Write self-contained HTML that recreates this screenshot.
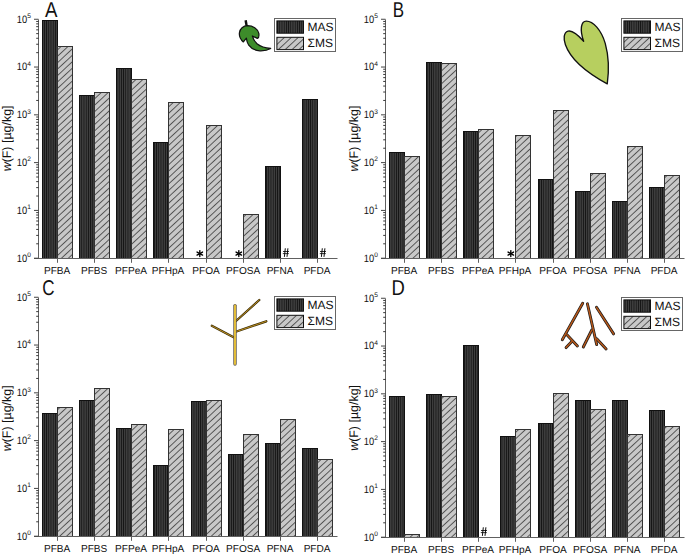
<!DOCTYPE html>
<html><head><meta charset="utf-8"><style>
html,body{margin:0;padding:0;background:#fff;}
body{width:685px;height:556px;overflow:hidden;}
svg{display:block;}
text{font-family:"Liberation Sans",sans-serif;fill:#111;text-rendering:geometricPrecision;}
.sr{font-family:"Liberation Serif",serif;}
</style></head><body>
<svg width="685" height="556" viewBox="0 0 685 556">

<defs>
<pattern id="pm" patternUnits="userSpaceOnUse" width="2.2" height="10">
<rect width="2.2" height="10" fill="#3e3e3e"/>
<rect x="0" width="0.75" height="10" fill="#121212"/>
</pattern>
<pattern id="ph" patternUnits="userSpaceOnUse" width="10" height="4.7" patternTransform="rotate(-43)">
<rect width="10" height="4.7" fill="#c8c8c8"/>
<rect x="0" y="0" width="10" height="0.75" fill="#333"/>
</pattern>
<g id="hash" stroke="#000" fill="none">
<line x1="-0.6" y1="-10.2" x2="-1.5" y2="-1.6" stroke-width="0.95"/>
<line x1="2.0" y1="-10.2" x2="1.1" y2="-1.6" stroke-width="0.95"/>
<line x1="-2.9" y1="-7" x2="3.1" y2="-7" stroke-width="0.8"/>
<line x1="-3.1" y1="-4.9" x2="2.9" y2="-4.9" stroke-width="0.8"/>
</g>
<g id="ast" stroke="#000" stroke-width="1.35" stroke-linecap="round">
<line x1="0" y1="-3.0" x2="0" y2="3.0"/>
<line x1="-2.75" y1="-1.55" x2="2.75" y2="1.55"/>
<line x1="-2.75" y1="1.55" x2="2.75" y2="-1.55"/>
</g>
</defs>
<g><rect x="42.5" y="20.5" width="15" height="238" fill="url(#pm)" stroke="#111" stroke-width="1"/>
<rect x="57.5" y="46.5" width="15" height="212" fill="url(#ph)" stroke="#333" stroke-width="1"/>
<rect x="79.5" y="95.5" width="15" height="163" fill="url(#pm)" stroke="#111" stroke-width="1"/>
<rect x="94.5" y="92.5" width="15" height="166" fill="url(#ph)" stroke="#333" stroke-width="1"/>
<rect x="116.5" y="68.5" width="15" height="190" fill="url(#pm)" stroke="#111" stroke-width="1"/>
<rect x="131.5" y="79.5" width="15" height="179" fill="url(#ph)" stroke="#333" stroke-width="1"/>
<rect x="153.5" y="142.5" width="15" height="116" fill="url(#pm)" stroke="#111" stroke-width="1"/>
<rect x="168.5" y="102.5" width="15" height="156" fill="url(#ph)" stroke="#333" stroke-width="1"/>
<rect x="206.5" y="125.5" width="15" height="133" fill="url(#ph)" stroke="#333" stroke-width="1"/>
<rect x="243.5" y="214.5" width="15" height="44" fill="url(#ph)" stroke="#333" stroke-width="1"/>
<rect x="265.5" y="166.5" width="15" height="92" fill="url(#pm)" stroke="#111" stroke-width="1"/>
<rect x="302.5" y="99.5" width="15" height="159" fill="url(#pm)" stroke="#111" stroke-width="1"/>
<line x1="38.5" y1="19.5" x2="38.5" y2="258.5" stroke="#606060" stroke-width="1"/>
<line x1="34" y1="258.5" x2="337.5" y2="258.5" stroke="#606060" stroke-width="1"/>
<line x1="34" y1="258.2" x2="38.5" y2="258.2" stroke="#444" stroke-width="1"/>
<text transform="translate(27.1,261.6) scale(0.88,1)" text-anchor="end" font-size="10.6">10</text>
<text x="27.3" y="257" font-size="6.6">0</text>
<line x1="36.2" y1="243.81" x2="38.5" y2="243.81" stroke="#222" stroke-width="0.9"/>
<line x1="36.2" y1="235.4" x2="38.5" y2="235.4" stroke="#222" stroke-width="0.9"/>
<line x1="36.2" y1="229.43" x2="38.5" y2="229.43" stroke="#222" stroke-width="0.9"/>
<line x1="36.2" y1="224.8" x2="38.5" y2="224.8" stroke="#222" stroke-width="0.9"/>
<line x1="36.2" y1="221.01" x2="38.5" y2="221.01" stroke="#222" stroke-width="0.9"/>
<line x1="36.2" y1="217.81" x2="38.5" y2="217.81" stroke="#222" stroke-width="0.9"/>
<line x1="36.2" y1="215.04" x2="38.5" y2="215.04" stroke="#222" stroke-width="0.9"/>
<line x1="36.2" y1="212.6" x2="38.5" y2="212.6" stroke="#222" stroke-width="0.9"/>
<line x1="34" y1="210.41" x2="38.5" y2="210.41" stroke="#444" stroke-width="1"/>
<text transform="translate(27.1,213.81) scale(0.88,1)" text-anchor="end" font-size="10.6">10</text>
<text x="27.3" y="209.21" font-size="6.6">1</text>
<line x1="36.2" y1="196.02" x2="38.5" y2="196.02" stroke="#222" stroke-width="0.9"/>
<line x1="36.2" y1="187.61" x2="38.5" y2="187.61" stroke="#222" stroke-width="0.9"/>
<line x1="36.2" y1="181.64" x2="38.5" y2="181.64" stroke="#222" stroke-width="0.9"/>
<line x1="36.2" y1="177.01" x2="38.5" y2="177.01" stroke="#222" stroke-width="0.9"/>
<line x1="36.2" y1="173.22" x2="38.5" y2="173.22" stroke="#222" stroke-width="0.9"/>
<line x1="36.2" y1="170.02" x2="38.5" y2="170.02" stroke="#222" stroke-width="0.9"/>
<line x1="36.2" y1="167.25" x2="38.5" y2="167.25" stroke="#222" stroke-width="0.9"/>
<line x1="36.2" y1="164.81" x2="38.5" y2="164.81" stroke="#222" stroke-width="0.9"/>
<line x1="34" y1="162.62" x2="38.5" y2="162.62" stroke="#444" stroke-width="1"/>
<text transform="translate(27.1,166.02) scale(0.88,1)" text-anchor="end" font-size="10.6">10</text>
<text x="27.3" y="161.42" font-size="6.6">2</text>
<line x1="36.2" y1="148.23" x2="38.5" y2="148.23" stroke="#222" stroke-width="0.9"/>
<line x1="36.2" y1="139.82" x2="38.5" y2="139.82" stroke="#222" stroke-width="0.9"/>
<line x1="36.2" y1="133.85" x2="38.5" y2="133.85" stroke="#222" stroke-width="0.9"/>
<line x1="36.2" y1="129.22" x2="38.5" y2="129.22" stroke="#222" stroke-width="0.9"/>
<line x1="36.2" y1="125.43" x2="38.5" y2="125.43" stroke="#222" stroke-width="0.9"/>
<line x1="36.2" y1="122.23" x2="38.5" y2="122.23" stroke="#222" stroke-width="0.9"/>
<line x1="36.2" y1="119.46" x2="38.5" y2="119.46" stroke="#222" stroke-width="0.9"/>
<line x1="36.2" y1="117.02" x2="38.5" y2="117.02" stroke="#222" stroke-width="0.9"/>
<line x1="34" y1="114.83" x2="38.5" y2="114.83" stroke="#444" stroke-width="1"/>
<text transform="translate(27.1,118.23) scale(0.88,1)" text-anchor="end" font-size="10.6">10</text>
<text x="27.3" y="113.63" font-size="6.6">3</text>
<line x1="36.2" y1="100.44" x2="38.5" y2="100.44" stroke="#222" stroke-width="0.9"/>
<line x1="36.2" y1="92.03" x2="38.5" y2="92.03" stroke="#222" stroke-width="0.9"/>
<line x1="36.2" y1="86.06" x2="38.5" y2="86.06" stroke="#222" stroke-width="0.9"/>
<line x1="36.2" y1="81.43" x2="38.5" y2="81.43" stroke="#222" stroke-width="0.9"/>
<line x1="36.2" y1="77.64" x2="38.5" y2="77.64" stroke="#222" stroke-width="0.9"/>
<line x1="36.2" y1="74.44" x2="38.5" y2="74.44" stroke="#222" stroke-width="0.9"/>
<line x1="36.2" y1="71.67" x2="38.5" y2="71.67" stroke="#222" stroke-width="0.9"/>
<line x1="36.2" y1="69.23" x2="38.5" y2="69.23" stroke="#222" stroke-width="0.9"/>
<line x1="34" y1="67.04" x2="38.5" y2="67.04" stroke="#444" stroke-width="1"/>
<text transform="translate(27.1,70.44) scale(0.88,1)" text-anchor="end" font-size="10.6">10</text>
<text x="27.3" y="65.84" font-size="6.6">4</text>
<line x1="36.2" y1="52.65" x2="38.5" y2="52.65" stroke="#222" stroke-width="0.9"/>
<line x1="36.2" y1="44.24" x2="38.5" y2="44.24" stroke="#222" stroke-width="0.9"/>
<line x1="36.2" y1="38.27" x2="38.5" y2="38.27" stroke="#222" stroke-width="0.9"/>
<line x1="36.2" y1="33.64" x2="38.5" y2="33.64" stroke="#222" stroke-width="0.9"/>
<line x1="36.2" y1="29.85" x2="38.5" y2="29.85" stroke="#222" stroke-width="0.9"/>
<line x1="36.2" y1="26.65" x2="38.5" y2="26.65" stroke="#222" stroke-width="0.9"/>
<line x1="36.2" y1="23.88" x2="38.5" y2="23.88" stroke="#222" stroke-width="0.9"/>
<line x1="36.2" y1="21.44" x2="38.5" y2="21.44" stroke="#222" stroke-width="0.9"/>
<line x1="34" y1="19.25" x2="38.5" y2="19.25" stroke="#444" stroke-width="1"/>
<text transform="translate(27.1,22.65) scale(0.88,1)" text-anchor="end" font-size="10.6">10</text>
<text x="27.3" y="18.05" font-size="6.6">5</text>
<line x1="57.5" y1="258.5" x2="57.5" y2="262.8" stroke="#606060" stroke-width="1"/>
<text x="57.1" y="273.5" text-anchor="middle" font-size="10.1">PFBA</text>
<line x1="94.5" y1="258.5" x2="94.5" y2="262.8" stroke="#606060" stroke-width="1"/>
<text x="94.1" y="273.5" text-anchor="middle" font-size="10.1">PFBS</text>
<line x1="131.5" y1="258.5" x2="131.5" y2="262.8" stroke="#606060" stroke-width="1"/>
<text x="131.1" y="273.5" text-anchor="middle" font-size="10.1">PFPeA</text>
<line x1="168.5" y1="258.5" x2="168.5" y2="262.8" stroke="#606060" stroke-width="1"/>
<text x="168.1" y="273.5" text-anchor="middle" font-size="10.1">PFHpA</text>
<line x1="206.5" y1="258.5" x2="206.5" y2="262.8" stroke="#606060" stroke-width="1"/>
<text x="206.1" y="273.5" text-anchor="middle" font-size="10.1">PFOA</text>
<line x1="243.5" y1="258.5" x2="243.5" y2="262.8" stroke="#606060" stroke-width="1"/>
<text x="243.1" y="273.5" text-anchor="middle" font-size="10.1">PFOSA</text>
<line x1="280.5" y1="258.5" x2="280.5" y2="262.8" stroke="#606060" stroke-width="1"/>
<text x="280.1" y="273.5" text-anchor="middle" font-size="10.1">PFNA</text>
<line x1="317.5" y1="258.5" x2="317.5" y2="262.8" stroke="#606060" stroke-width="1"/>
<text x="317.1" y="273.5" text-anchor="middle" font-size="10.1">PFDA</text>
<use href="#ast" x="199.8" y="253.6"/>
<use href="#ast" x="238.8" y="253.6"/>
<use href="#hash" x="285.9" y="258.5"/>
<use href="#hash" x="322.9" y="258.5"/>
<text transform="translate(10.9,138.4) rotate(-90)" text-anchor="middle" font-size="12.45"><tspan font-style="italic">w</tspan>(F) [µg/kg]</text>
<text transform="translate(44.9,17.2) scale(0.867,1)" font-size="21.5">A</text>
<rect x="274.5" y="18.5" width="61" height="33" fill="#fff" stroke="#666" stroke-width="1"/>
<rect x="276.9" y="20.9" width="26.6" height="12.3" fill="url(#pm)" stroke="#111" stroke-width="1"/>
<rect x="276.9" y="37.3" width="26.6" height="12.3" fill="url(#ph)" stroke="#111" stroke-width="1"/>
<text x="307.5" y="30.5" font-size="12">MAS</text>
<text x="307.5" y="47.2" font-size="12">ΣMS</text></g>
<g><rect x="389.5" y="152.5" width="15" height="106" fill="url(#pm)" stroke="#111" stroke-width="1"/>
<rect x="404.5" y="156.5" width="15" height="102" fill="url(#ph)" stroke="#333" stroke-width="1"/>
<rect x="426.5" y="62.5" width="15" height="196" fill="url(#pm)" stroke="#111" stroke-width="1"/>
<rect x="441.5" y="63.5" width="15" height="195" fill="url(#ph)" stroke="#333" stroke-width="1"/>
<rect x="463.5" y="131.5" width="15" height="127" fill="url(#pm)" stroke="#111" stroke-width="1"/>
<rect x="478.5" y="129.5" width="15" height="129" fill="url(#ph)" stroke="#333" stroke-width="1"/>
<rect x="515.5" y="135.5" width="15" height="123" fill="url(#ph)" stroke="#333" stroke-width="1"/>
<rect x="538.5" y="179.5" width="15" height="79" fill="url(#pm)" stroke="#111" stroke-width="1"/>
<rect x="553.5" y="110.5" width="15" height="148" fill="url(#ph)" stroke="#333" stroke-width="1"/>
<rect x="575.5" y="191.5" width="15" height="67" fill="url(#pm)" stroke="#111" stroke-width="1"/>
<rect x="590.5" y="173.5" width="15" height="85" fill="url(#ph)" stroke="#333" stroke-width="1"/>
<rect x="612.5" y="201.5" width="15" height="57" fill="url(#pm)" stroke="#111" stroke-width="1"/>
<rect x="627.5" y="146.5" width="15" height="112" fill="url(#ph)" stroke="#333" stroke-width="1"/>
<rect x="649.5" y="187.5" width="15" height="71" fill="url(#pm)" stroke="#111" stroke-width="1"/>
<rect x="664.5" y="175.5" width="15" height="83" fill="url(#ph)" stroke="#333" stroke-width="1"/>
<line x1="385.5" y1="19.5" x2="385.5" y2="258.5" stroke="#606060" stroke-width="1"/>
<line x1="381" y1="258.5" x2="684.5" y2="258.5" stroke="#606060" stroke-width="1"/>
<line x1="381" y1="258.2" x2="385.5" y2="258.2" stroke="#444" stroke-width="1"/>
<text transform="translate(374.1,261.6) scale(0.88,1)" text-anchor="end" font-size="10.6">10</text>
<text x="374.3" y="257" font-size="6.6">0</text>
<line x1="383.2" y1="243.81" x2="385.5" y2="243.81" stroke="#222" stroke-width="0.9"/>
<line x1="383.2" y1="235.4" x2="385.5" y2="235.4" stroke="#222" stroke-width="0.9"/>
<line x1="383.2" y1="229.43" x2="385.5" y2="229.43" stroke="#222" stroke-width="0.9"/>
<line x1="383.2" y1="224.8" x2="385.5" y2="224.8" stroke="#222" stroke-width="0.9"/>
<line x1="383.2" y1="221.01" x2="385.5" y2="221.01" stroke="#222" stroke-width="0.9"/>
<line x1="383.2" y1="217.81" x2="385.5" y2="217.81" stroke="#222" stroke-width="0.9"/>
<line x1="383.2" y1="215.04" x2="385.5" y2="215.04" stroke="#222" stroke-width="0.9"/>
<line x1="383.2" y1="212.6" x2="385.5" y2="212.6" stroke="#222" stroke-width="0.9"/>
<line x1="381" y1="210.41" x2="385.5" y2="210.41" stroke="#444" stroke-width="1"/>
<text transform="translate(374.1,213.81) scale(0.88,1)" text-anchor="end" font-size="10.6">10</text>
<text x="374.3" y="209.21" font-size="6.6">1</text>
<line x1="383.2" y1="196.02" x2="385.5" y2="196.02" stroke="#222" stroke-width="0.9"/>
<line x1="383.2" y1="187.61" x2="385.5" y2="187.61" stroke="#222" stroke-width="0.9"/>
<line x1="383.2" y1="181.64" x2="385.5" y2="181.64" stroke="#222" stroke-width="0.9"/>
<line x1="383.2" y1="177.01" x2="385.5" y2="177.01" stroke="#222" stroke-width="0.9"/>
<line x1="383.2" y1="173.22" x2="385.5" y2="173.22" stroke="#222" stroke-width="0.9"/>
<line x1="383.2" y1="170.02" x2="385.5" y2="170.02" stroke="#222" stroke-width="0.9"/>
<line x1="383.2" y1="167.25" x2="385.5" y2="167.25" stroke="#222" stroke-width="0.9"/>
<line x1="383.2" y1="164.81" x2="385.5" y2="164.81" stroke="#222" stroke-width="0.9"/>
<line x1="381" y1="162.62" x2="385.5" y2="162.62" stroke="#444" stroke-width="1"/>
<text transform="translate(374.1,166.02) scale(0.88,1)" text-anchor="end" font-size="10.6">10</text>
<text x="374.3" y="161.42" font-size="6.6">2</text>
<line x1="383.2" y1="148.23" x2="385.5" y2="148.23" stroke="#222" stroke-width="0.9"/>
<line x1="383.2" y1="139.82" x2="385.5" y2="139.82" stroke="#222" stroke-width="0.9"/>
<line x1="383.2" y1="133.85" x2="385.5" y2="133.85" stroke="#222" stroke-width="0.9"/>
<line x1="383.2" y1="129.22" x2="385.5" y2="129.22" stroke="#222" stroke-width="0.9"/>
<line x1="383.2" y1="125.43" x2="385.5" y2="125.43" stroke="#222" stroke-width="0.9"/>
<line x1="383.2" y1="122.23" x2="385.5" y2="122.23" stroke="#222" stroke-width="0.9"/>
<line x1="383.2" y1="119.46" x2="385.5" y2="119.46" stroke="#222" stroke-width="0.9"/>
<line x1="383.2" y1="117.02" x2="385.5" y2="117.02" stroke="#222" stroke-width="0.9"/>
<line x1="381" y1="114.83" x2="385.5" y2="114.83" stroke="#444" stroke-width="1"/>
<text transform="translate(374.1,118.23) scale(0.88,1)" text-anchor="end" font-size="10.6">10</text>
<text x="374.3" y="113.63" font-size="6.6">3</text>
<line x1="383.2" y1="100.44" x2="385.5" y2="100.44" stroke="#222" stroke-width="0.9"/>
<line x1="383.2" y1="92.03" x2="385.5" y2="92.03" stroke="#222" stroke-width="0.9"/>
<line x1="383.2" y1="86.06" x2="385.5" y2="86.06" stroke="#222" stroke-width="0.9"/>
<line x1="383.2" y1="81.43" x2="385.5" y2="81.43" stroke="#222" stroke-width="0.9"/>
<line x1="383.2" y1="77.64" x2="385.5" y2="77.64" stroke="#222" stroke-width="0.9"/>
<line x1="383.2" y1="74.44" x2="385.5" y2="74.44" stroke="#222" stroke-width="0.9"/>
<line x1="383.2" y1="71.67" x2="385.5" y2="71.67" stroke="#222" stroke-width="0.9"/>
<line x1="383.2" y1="69.23" x2="385.5" y2="69.23" stroke="#222" stroke-width="0.9"/>
<line x1="381" y1="67.04" x2="385.5" y2="67.04" stroke="#444" stroke-width="1"/>
<text transform="translate(374.1,70.44) scale(0.88,1)" text-anchor="end" font-size="10.6">10</text>
<text x="374.3" y="65.84" font-size="6.6">4</text>
<line x1="383.2" y1="52.65" x2="385.5" y2="52.65" stroke="#222" stroke-width="0.9"/>
<line x1="383.2" y1="44.24" x2="385.5" y2="44.24" stroke="#222" stroke-width="0.9"/>
<line x1="383.2" y1="38.27" x2="385.5" y2="38.27" stroke="#222" stroke-width="0.9"/>
<line x1="383.2" y1="33.64" x2="385.5" y2="33.64" stroke="#222" stroke-width="0.9"/>
<line x1="383.2" y1="29.85" x2="385.5" y2="29.85" stroke="#222" stroke-width="0.9"/>
<line x1="383.2" y1="26.65" x2="385.5" y2="26.65" stroke="#222" stroke-width="0.9"/>
<line x1="383.2" y1="23.88" x2="385.5" y2="23.88" stroke="#222" stroke-width="0.9"/>
<line x1="383.2" y1="21.44" x2="385.5" y2="21.44" stroke="#222" stroke-width="0.9"/>
<line x1="381" y1="19.25" x2="385.5" y2="19.25" stroke="#444" stroke-width="1"/>
<text transform="translate(374.1,22.65) scale(0.88,1)" text-anchor="end" font-size="10.6">10</text>
<text x="374.3" y="18.05" font-size="6.6">5</text>
<line x1="404.5" y1="258.5" x2="404.5" y2="262.8" stroke="#606060" stroke-width="1"/>
<text x="404.1" y="273.5" text-anchor="middle" font-size="10.1">PFBA</text>
<line x1="441.5" y1="258.5" x2="441.5" y2="262.8" stroke="#606060" stroke-width="1"/>
<text x="441.1" y="273.5" text-anchor="middle" font-size="10.1">PFBS</text>
<line x1="478.5" y1="258.5" x2="478.5" y2="262.8" stroke="#606060" stroke-width="1"/>
<text x="478.1" y="273.5" text-anchor="middle" font-size="10.1">PFPeA</text>
<line x1="515.5" y1="258.5" x2="515.5" y2="262.8" stroke="#606060" stroke-width="1"/>
<text x="515.1" y="273.5" text-anchor="middle" font-size="10.1">PFHpA</text>
<line x1="553.5" y1="258.5" x2="553.5" y2="262.8" stroke="#606060" stroke-width="1"/>
<text x="553.1" y="273.5" text-anchor="middle" font-size="10.1">PFOA</text>
<line x1="590.5" y1="258.5" x2="590.5" y2="262.8" stroke="#606060" stroke-width="1"/>
<text x="590.1" y="273.5" text-anchor="middle" font-size="10.1">PFOSA</text>
<line x1="627.5" y1="258.5" x2="627.5" y2="262.8" stroke="#606060" stroke-width="1"/>
<text x="627.1" y="273.5" text-anchor="middle" font-size="10.1">PFNA</text>
<line x1="664.5" y1="258.5" x2="664.5" y2="262.8" stroke="#606060" stroke-width="1"/>
<text x="664.1" y="273.5" text-anchor="middle" font-size="10.1">PFDA</text>
<use href="#ast" x="510.8" y="253.6"/>
<text transform="translate(357.9,138.6) rotate(-90)" text-anchor="middle" font-size="12.45"><tspan font-style="italic">w</tspan>(F) [µg/kg]</text>
<text transform="translate(392.74,17.2) scale(0.79,1)" font-size="21.5">B</text>
<rect x="621.5" y="18.5" width="61" height="33" fill="#fff" stroke="#666" stroke-width="1"/>
<rect x="623.9" y="20.9" width="26.6" height="12.3" fill="url(#pm)" stroke="#111" stroke-width="1"/>
<rect x="623.9" y="37.3" width="26.6" height="12.3" fill="url(#ph)" stroke="#111" stroke-width="1"/>
<text x="654.5" y="30.5" font-size="12">MAS</text>
<text x="654.5" y="47.2" font-size="12">ΣMS</text></g>
<g><rect x="42.5" y="413.5" width="15" height="123" fill="url(#pm)" stroke="#111" stroke-width="1"/>
<rect x="57.5" y="407.5" width="15" height="129" fill="url(#ph)" stroke="#333" stroke-width="1"/>
<rect x="79.5" y="400.5" width="15" height="136" fill="url(#pm)" stroke="#111" stroke-width="1"/>
<rect x="94.5" y="388.5" width="15" height="148" fill="url(#ph)" stroke="#333" stroke-width="1"/>
<rect x="116.5" y="428.5" width="15" height="108" fill="url(#pm)" stroke="#111" stroke-width="1"/>
<rect x="131.5" y="424.5" width="15" height="112" fill="url(#ph)" stroke="#333" stroke-width="1"/>
<rect x="153.5" y="465.5" width="15" height="71" fill="url(#pm)" stroke="#111" stroke-width="1"/>
<rect x="168.5" y="429.5" width="15" height="107" fill="url(#ph)" stroke="#333" stroke-width="1"/>
<rect x="191.5" y="401.5" width="15" height="135" fill="url(#pm)" stroke="#111" stroke-width="1"/>
<rect x="206.5" y="400.5" width="15" height="136" fill="url(#ph)" stroke="#333" stroke-width="1"/>
<rect x="228.5" y="454.5" width="15" height="82" fill="url(#pm)" stroke="#111" stroke-width="1"/>
<rect x="243.5" y="434.5" width="15" height="102" fill="url(#ph)" stroke="#333" stroke-width="1"/>
<rect x="265.5" y="443.5" width="15" height="93" fill="url(#pm)" stroke="#111" stroke-width="1"/>
<rect x="280.5" y="419.5" width="15" height="117" fill="url(#ph)" stroke="#333" stroke-width="1"/>
<rect x="302.5" y="448.5" width="15" height="88" fill="url(#pm)" stroke="#111" stroke-width="1"/>
<rect x="317.5" y="459.5" width="15" height="77" fill="url(#ph)" stroke="#333" stroke-width="1"/>
<line x1="38.5" y1="297.5" x2="38.5" y2="536.5" stroke="#606060" stroke-width="1"/>
<line x1="34" y1="536.5" x2="337.5" y2="536.5" stroke="#606060" stroke-width="1"/>
<line x1="34" y1="536.2" x2="38.5" y2="536.2" stroke="#444" stroke-width="1"/>
<text transform="translate(27.1,539.6) scale(0.88,1)" text-anchor="end" font-size="10.6">10</text>
<text x="27.3" y="535" font-size="6.6">0</text>
<line x1="36.2" y1="521.81" x2="38.5" y2="521.81" stroke="#222" stroke-width="0.9"/>
<line x1="36.2" y1="513.4" x2="38.5" y2="513.4" stroke="#222" stroke-width="0.9"/>
<line x1="36.2" y1="507.43" x2="38.5" y2="507.43" stroke="#222" stroke-width="0.9"/>
<line x1="36.2" y1="502.8" x2="38.5" y2="502.8" stroke="#222" stroke-width="0.9"/>
<line x1="36.2" y1="499.01" x2="38.5" y2="499.01" stroke="#222" stroke-width="0.9"/>
<line x1="36.2" y1="495.81" x2="38.5" y2="495.81" stroke="#222" stroke-width="0.9"/>
<line x1="36.2" y1="493.04" x2="38.5" y2="493.04" stroke="#222" stroke-width="0.9"/>
<line x1="36.2" y1="490.6" x2="38.5" y2="490.6" stroke="#222" stroke-width="0.9"/>
<line x1="34" y1="488.41" x2="38.5" y2="488.41" stroke="#444" stroke-width="1"/>
<text transform="translate(27.1,491.81) scale(0.88,1)" text-anchor="end" font-size="10.6">10</text>
<text x="27.3" y="487.21" font-size="6.6">1</text>
<line x1="36.2" y1="474.02" x2="38.5" y2="474.02" stroke="#222" stroke-width="0.9"/>
<line x1="36.2" y1="465.61" x2="38.5" y2="465.61" stroke="#222" stroke-width="0.9"/>
<line x1="36.2" y1="459.64" x2="38.5" y2="459.64" stroke="#222" stroke-width="0.9"/>
<line x1="36.2" y1="455.01" x2="38.5" y2="455.01" stroke="#222" stroke-width="0.9"/>
<line x1="36.2" y1="451.22" x2="38.5" y2="451.22" stroke="#222" stroke-width="0.9"/>
<line x1="36.2" y1="448.02" x2="38.5" y2="448.02" stroke="#222" stroke-width="0.9"/>
<line x1="36.2" y1="445.25" x2="38.5" y2="445.25" stroke="#222" stroke-width="0.9"/>
<line x1="36.2" y1="442.81" x2="38.5" y2="442.81" stroke="#222" stroke-width="0.9"/>
<line x1="34" y1="440.62" x2="38.5" y2="440.62" stroke="#444" stroke-width="1"/>
<text transform="translate(27.1,444.02) scale(0.88,1)" text-anchor="end" font-size="10.6">10</text>
<text x="27.3" y="439.42" font-size="6.6">2</text>
<line x1="36.2" y1="426.23" x2="38.5" y2="426.23" stroke="#222" stroke-width="0.9"/>
<line x1="36.2" y1="417.82" x2="38.5" y2="417.82" stroke="#222" stroke-width="0.9"/>
<line x1="36.2" y1="411.85" x2="38.5" y2="411.85" stroke="#222" stroke-width="0.9"/>
<line x1="36.2" y1="407.22" x2="38.5" y2="407.22" stroke="#222" stroke-width="0.9"/>
<line x1="36.2" y1="403.43" x2="38.5" y2="403.43" stroke="#222" stroke-width="0.9"/>
<line x1="36.2" y1="400.23" x2="38.5" y2="400.23" stroke="#222" stroke-width="0.9"/>
<line x1="36.2" y1="397.46" x2="38.5" y2="397.46" stroke="#222" stroke-width="0.9"/>
<line x1="36.2" y1="395.02" x2="38.5" y2="395.02" stroke="#222" stroke-width="0.9"/>
<line x1="34" y1="392.83" x2="38.5" y2="392.83" stroke="#444" stroke-width="1"/>
<text transform="translate(27.1,396.23) scale(0.88,1)" text-anchor="end" font-size="10.6">10</text>
<text x="27.3" y="391.63" font-size="6.6">3</text>
<line x1="36.2" y1="378.44" x2="38.5" y2="378.44" stroke="#222" stroke-width="0.9"/>
<line x1="36.2" y1="370.03" x2="38.5" y2="370.03" stroke="#222" stroke-width="0.9"/>
<line x1="36.2" y1="364.06" x2="38.5" y2="364.06" stroke="#222" stroke-width="0.9"/>
<line x1="36.2" y1="359.43" x2="38.5" y2="359.43" stroke="#222" stroke-width="0.9"/>
<line x1="36.2" y1="355.64" x2="38.5" y2="355.64" stroke="#222" stroke-width="0.9"/>
<line x1="36.2" y1="352.44" x2="38.5" y2="352.44" stroke="#222" stroke-width="0.9"/>
<line x1="36.2" y1="349.67" x2="38.5" y2="349.67" stroke="#222" stroke-width="0.9"/>
<line x1="36.2" y1="347.23" x2="38.5" y2="347.23" stroke="#222" stroke-width="0.9"/>
<line x1="34" y1="345.04" x2="38.5" y2="345.04" stroke="#444" stroke-width="1"/>
<text transform="translate(27.1,348.44) scale(0.88,1)" text-anchor="end" font-size="10.6">10</text>
<text x="27.3" y="343.84" font-size="6.6">4</text>
<line x1="36.2" y1="330.65" x2="38.5" y2="330.65" stroke="#222" stroke-width="0.9"/>
<line x1="36.2" y1="322.24" x2="38.5" y2="322.24" stroke="#222" stroke-width="0.9"/>
<line x1="36.2" y1="316.27" x2="38.5" y2="316.27" stroke="#222" stroke-width="0.9"/>
<line x1="36.2" y1="311.64" x2="38.5" y2="311.64" stroke="#222" stroke-width="0.9"/>
<line x1="36.2" y1="307.85" x2="38.5" y2="307.85" stroke="#222" stroke-width="0.9"/>
<line x1="36.2" y1="304.65" x2="38.5" y2="304.65" stroke="#222" stroke-width="0.9"/>
<line x1="36.2" y1="301.88" x2="38.5" y2="301.88" stroke="#222" stroke-width="0.9"/>
<line x1="36.2" y1="299.44" x2="38.5" y2="299.44" stroke="#222" stroke-width="0.9"/>
<line x1="34" y1="297.25" x2="38.5" y2="297.25" stroke="#444" stroke-width="1"/>
<text transform="translate(27.1,300.65) scale(0.88,1)" text-anchor="end" font-size="10.6">10</text>
<text x="27.3" y="296.05" font-size="6.6">5</text>
<line x1="57.5" y1="536.5" x2="57.5" y2="540.8" stroke="#606060" stroke-width="1"/>
<text x="57.1" y="551.5" text-anchor="middle" font-size="10.1">PFBA</text>
<line x1="94.5" y1="536.5" x2="94.5" y2="540.8" stroke="#606060" stroke-width="1"/>
<text x="94.1" y="551.5" text-anchor="middle" font-size="10.1">PFBS</text>
<line x1="131.5" y1="536.5" x2="131.5" y2="540.8" stroke="#606060" stroke-width="1"/>
<text x="131.1" y="551.5" text-anchor="middle" font-size="10.1">PFPeA</text>
<line x1="168.5" y1="536.5" x2="168.5" y2="540.8" stroke="#606060" stroke-width="1"/>
<text x="168.1" y="551.5" text-anchor="middle" font-size="10.1">PFHpA</text>
<line x1="206.5" y1="536.5" x2="206.5" y2="540.8" stroke="#606060" stroke-width="1"/>
<text x="206.1" y="551.5" text-anchor="middle" font-size="10.1">PFOA</text>
<line x1="243.5" y1="536.5" x2="243.5" y2="540.8" stroke="#606060" stroke-width="1"/>
<text x="243.1" y="551.5" text-anchor="middle" font-size="10.1">PFOSA</text>
<line x1="280.5" y1="536.5" x2="280.5" y2="540.8" stroke="#606060" stroke-width="1"/>
<text x="280.1" y="551.5" text-anchor="middle" font-size="10.1">PFNA</text>
<line x1="317.5" y1="536.5" x2="317.5" y2="540.8" stroke="#606060" stroke-width="1"/>
<text x="317.1" y="551.5" text-anchor="middle" font-size="10.1">PFDA</text>
<text transform="translate(10.9,418.3) rotate(-90)" text-anchor="middle" font-size="12.45"><tspan font-style="italic">w</tspan>(F) [µg/kg]</text>
<text transform="translate(42.15,295) scale(0.79,1)" font-size="21.5">C</text>
<rect x="274.5" y="296.5" width="61" height="33" fill="#fff" stroke="#666" stroke-width="1"/>
<rect x="276.9" y="298.9" width="26.6" height="12.3" fill="url(#pm)" stroke="#111" stroke-width="1"/>
<rect x="276.9" y="315.3" width="26.6" height="12.3" fill="url(#ph)" stroke="#111" stroke-width="1"/>
<text x="307.5" y="308.5" font-size="12">MAS</text>
<text x="307.5" y="325.2" font-size="12">ΣMS</text></g>
<g><rect x="389.5" y="396.5" width="15" height="141" fill="url(#pm)" stroke="#111" stroke-width="1"/>
<rect x="404.5" y="534.5" width="15" height="3" fill="url(#ph)" stroke="#333" stroke-width="1"/>
<rect x="426.5" y="394.5" width="15" height="143" fill="url(#pm)" stroke="#111" stroke-width="1"/>
<rect x="441.5" y="396.5" width="15" height="141" fill="url(#ph)" stroke="#333" stroke-width="1"/>
<rect x="463.5" y="345.5" width="15" height="192" fill="url(#pm)" stroke="#111" stroke-width="1"/>
<rect x="500.5" y="436.5" width="15" height="101" fill="url(#pm)" stroke="#111" stroke-width="1"/>
<rect x="515.5" y="429.5" width="15" height="108" fill="url(#ph)" stroke="#333" stroke-width="1"/>
<rect x="538.5" y="423.5" width="15" height="114" fill="url(#pm)" stroke="#111" stroke-width="1"/>
<rect x="553.5" y="393.5" width="15" height="144" fill="url(#ph)" stroke="#333" stroke-width="1"/>
<rect x="575.5" y="400.5" width="15" height="137" fill="url(#pm)" stroke="#111" stroke-width="1"/>
<rect x="590.5" y="409.5" width="15" height="128" fill="url(#ph)" stroke="#333" stroke-width="1"/>
<rect x="612.5" y="400.5" width="15" height="137" fill="url(#pm)" stroke="#111" stroke-width="1"/>
<rect x="627.5" y="434.5" width="15" height="103" fill="url(#ph)" stroke="#333" stroke-width="1"/>
<rect x="649.5" y="410.5" width="15" height="127" fill="url(#pm)" stroke="#111" stroke-width="1"/>
<rect x="664.5" y="426.5" width="15" height="111" fill="url(#ph)" stroke="#333" stroke-width="1"/>
<line x1="385.5" y1="298.5" x2="385.5" y2="537.5" stroke="#606060" stroke-width="1"/>
<line x1="381" y1="537.5" x2="684.5" y2="537.5" stroke="#606060" stroke-width="1"/>
<line x1="381" y1="537.2" x2="385.5" y2="537.2" stroke="#444" stroke-width="1"/>
<text transform="translate(374.1,540.6) scale(0.88,1)" text-anchor="end" font-size="10.6">10</text>
<text x="374.3" y="536" font-size="6.6">0</text>
<line x1="383.2" y1="522.81" x2="385.5" y2="522.81" stroke="#222" stroke-width="0.9"/>
<line x1="383.2" y1="514.4" x2="385.5" y2="514.4" stroke="#222" stroke-width="0.9"/>
<line x1="383.2" y1="508.43" x2="385.5" y2="508.43" stroke="#222" stroke-width="0.9"/>
<line x1="383.2" y1="503.8" x2="385.5" y2="503.8" stroke="#222" stroke-width="0.9"/>
<line x1="383.2" y1="500.01" x2="385.5" y2="500.01" stroke="#222" stroke-width="0.9"/>
<line x1="383.2" y1="496.81" x2="385.5" y2="496.81" stroke="#222" stroke-width="0.9"/>
<line x1="383.2" y1="494.04" x2="385.5" y2="494.04" stroke="#222" stroke-width="0.9"/>
<line x1="383.2" y1="491.6" x2="385.5" y2="491.6" stroke="#222" stroke-width="0.9"/>
<line x1="381" y1="489.41" x2="385.5" y2="489.41" stroke="#444" stroke-width="1"/>
<text transform="translate(374.1,492.81) scale(0.88,1)" text-anchor="end" font-size="10.6">10</text>
<text x="374.3" y="488.21" font-size="6.6">1</text>
<line x1="383.2" y1="475.02" x2="385.5" y2="475.02" stroke="#222" stroke-width="0.9"/>
<line x1="383.2" y1="466.61" x2="385.5" y2="466.61" stroke="#222" stroke-width="0.9"/>
<line x1="383.2" y1="460.64" x2="385.5" y2="460.64" stroke="#222" stroke-width="0.9"/>
<line x1="383.2" y1="456.01" x2="385.5" y2="456.01" stroke="#222" stroke-width="0.9"/>
<line x1="383.2" y1="452.22" x2="385.5" y2="452.22" stroke="#222" stroke-width="0.9"/>
<line x1="383.2" y1="449.02" x2="385.5" y2="449.02" stroke="#222" stroke-width="0.9"/>
<line x1="383.2" y1="446.25" x2="385.5" y2="446.25" stroke="#222" stroke-width="0.9"/>
<line x1="383.2" y1="443.81" x2="385.5" y2="443.81" stroke="#222" stroke-width="0.9"/>
<line x1="381" y1="441.62" x2="385.5" y2="441.62" stroke="#444" stroke-width="1"/>
<text transform="translate(374.1,445.02) scale(0.88,1)" text-anchor="end" font-size="10.6">10</text>
<text x="374.3" y="440.42" font-size="6.6">2</text>
<line x1="383.2" y1="427.23" x2="385.5" y2="427.23" stroke="#222" stroke-width="0.9"/>
<line x1="383.2" y1="418.82" x2="385.5" y2="418.82" stroke="#222" stroke-width="0.9"/>
<line x1="383.2" y1="412.85" x2="385.5" y2="412.85" stroke="#222" stroke-width="0.9"/>
<line x1="383.2" y1="408.22" x2="385.5" y2="408.22" stroke="#222" stroke-width="0.9"/>
<line x1="383.2" y1="404.43" x2="385.5" y2="404.43" stroke="#222" stroke-width="0.9"/>
<line x1="383.2" y1="401.23" x2="385.5" y2="401.23" stroke="#222" stroke-width="0.9"/>
<line x1="383.2" y1="398.46" x2="385.5" y2="398.46" stroke="#222" stroke-width="0.9"/>
<line x1="383.2" y1="396.02" x2="385.5" y2="396.02" stroke="#222" stroke-width="0.9"/>
<line x1="381" y1="393.83" x2="385.5" y2="393.83" stroke="#444" stroke-width="1"/>
<text transform="translate(374.1,397.23) scale(0.88,1)" text-anchor="end" font-size="10.6">10</text>
<text x="374.3" y="392.63" font-size="6.6">3</text>
<line x1="383.2" y1="379.44" x2="385.5" y2="379.44" stroke="#222" stroke-width="0.9"/>
<line x1="383.2" y1="371.03" x2="385.5" y2="371.03" stroke="#222" stroke-width="0.9"/>
<line x1="383.2" y1="365.06" x2="385.5" y2="365.06" stroke="#222" stroke-width="0.9"/>
<line x1="383.2" y1="360.43" x2="385.5" y2="360.43" stroke="#222" stroke-width="0.9"/>
<line x1="383.2" y1="356.64" x2="385.5" y2="356.64" stroke="#222" stroke-width="0.9"/>
<line x1="383.2" y1="353.44" x2="385.5" y2="353.44" stroke="#222" stroke-width="0.9"/>
<line x1="383.2" y1="350.67" x2="385.5" y2="350.67" stroke="#222" stroke-width="0.9"/>
<line x1="383.2" y1="348.23" x2="385.5" y2="348.23" stroke="#222" stroke-width="0.9"/>
<line x1="381" y1="346.04" x2="385.5" y2="346.04" stroke="#444" stroke-width="1"/>
<text transform="translate(374.1,349.44) scale(0.88,1)" text-anchor="end" font-size="10.6">10</text>
<text x="374.3" y="344.84" font-size="6.6">4</text>
<line x1="383.2" y1="331.65" x2="385.5" y2="331.65" stroke="#222" stroke-width="0.9"/>
<line x1="383.2" y1="323.24" x2="385.5" y2="323.24" stroke="#222" stroke-width="0.9"/>
<line x1="383.2" y1="317.27" x2="385.5" y2="317.27" stroke="#222" stroke-width="0.9"/>
<line x1="383.2" y1="312.64" x2="385.5" y2="312.64" stroke="#222" stroke-width="0.9"/>
<line x1="383.2" y1="308.85" x2="385.5" y2="308.85" stroke="#222" stroke-width="0.9"/>
<line x1="383.2" y1="305.65" x2="385.5" y2="305.65" stroke="#222" stroke-width="0.9"/>
<line x1="383.2" y1="302.88" x2="385.5" y2="302.88" stroke="#222" stroke-width="0.9"/>
<line x1="383.2" y1="300.44" x2="385.5" y2="300.44" stroke="#222" stroke-width="0.9"/>
<line x1="381" y1="298.25" x2="385.5" y2="298.25" stroke="#444" stroke-width="1"/>
<text transform="translate(374.1,301.65) scale(0.88,1)" text-anchor="end" font-size="10.6">10</text>
<text x="374.3" y="297.05" font-size="6.6">5</text>
<line x1="404.5" y1="537.5" x2="404.5" y2="541.8" stroke="#606060" stroke-width="1"/>
<text x="404.1" y="552.5" text-anchor="middle" font-size="10.1">PFBA</text>
<line x1="441.5" y1="537.5" x2="441.5" y2="541.8" stroke="#606060" stroke-width="1"/>
<text x="441.1" y="552.5" text-anchor="middle" font-size="10.1">PFBS</text>
<line x1="478.5" y1="537.5" x2="478.5" y2="541.8" stroke="#606060" stroke-width="1"/>
<text x="478.1" y="552.5" text-anchor="middle" font-size="10.1">PFPeA</text>
<line x1="515.5" y1="537.5" x2="515.5" y2="541.8" stroke="#606060" stroke-width="1"/>
<text x="515.1" y="552.5" text-anchor="middle" font-size="10.1">PFHpA</text>
<line x1="553.5" y1="537.5" x2="553.5" y2="541.8" stroke="#606060" stroke-width="1"/>
<text x="553.1" y="552.5" text-anchor="middle" font-size="10.1">PFOA</text>
<line x1="590.5" y1="537.5" x2="590.5" y2="541.8" stroke="#606060" stroke-width="1"/>
<text x="590.1" y="552.5" text-anchor="middle" font-size="10.1">PFOSA</text>
<line x1="627.5" y1="537.5" x2="627.5" y2="541.8" stroke="#606060" stroke-width="1"/>
<text x="627.1" y="552.5" text-anchor="middle" font-size="10.1">PFNA</text>
<line x1="664.5" y1="537.5" x2="664.5" y2="541.8" stroke="#606060" stroke-width="1"/>
<text x="664.1" y="552.5" text-anchor="middle" font-size="10.1">PFDA</text>
<use href="#hash" x="483.9" y="537.5"/>
<text transform="translate(357.9,417.9) rotate(-90)" text-anchor="middle" font-size="12.45"><tspan font-style="italic">w</tspan>(F) [µg/kg]</text>
<text transform="translate(391.43,294.9) scale(0.857,1)" font-size="21.5">D</text>
<rect x="621.5" y="297.5" width="61" height="33" fill="#fff" stroke="#666" stroke-width="1"/>
<rect x="623.9" y="299.9" width="26.6" height="12.3" fill="url(#pm)" stroke="#111" stroke-width="1"/>
<rect x="623.9" y="316.3" width="26.6" height="12.3" fill="url(#ph)" stroke="#111" stroke-width="1"/>
<text x="654.5" y="309.5" font-size="12">MAS</text>
<text x="654.5" y="326.2" font-size="12">ΣMS</text></g>
<!-- A: green leaf -->
<g transform="translate(234,15) scale(0.07194)" stroke="#111" stroke-linejoin="round">
<line x1="162" y1="72" x2="176" y2="155" stroke-width="34" stroke-linecap="butt"/>
<path d="M130,375 C90,340 70,300 75,250 C80,190 130,150 190,148 C260,148 330,190 345,255 C350,290 340,320 325,325 L255,292 C262,320 280,360 320,400 C370,440 430,460 510,465 C470,490 420,500 360,498 C300,494 240,470 205,420 C185,390 175,355 172,320 Z" fill="#3d8c2a" stroke-width="17"/>
</g>
<!-- B: heart leaf -->
<g transform="translate(558,15) scale(0.13495)">
<path d="M190,195 C150,150 110,110 75,120 C40,130 40,180 55,220 C90,320 200,420 365,510 C380,400 375,300 350,210 C320,110 260,45 210,45 C170,45 160,110 190,195 Z" fill="#b7cf5f" stroke="#111" stroke-width="10" stroke-linejoin="round"/>
</g>
<!-- C: twig -->
<g stroke-linecap="round">
<g stroke="#3a2c08" stroke-width="2.3">
<line x1="236" y1="321" x2="259.3" y2="300"/>
<line x1="236.5" y1="331.5" x2="266.3" y2="321.3"/>
<line x1="211.8" y1="325.8" x2="233.6" y2="337.3"/>
</g>
<g stroke="#c99a22" stroke-width="0.9">
<line x1="236" y1="321" x2="259.3" y2="300"/>
<line x1="236.5" y1="331.5" x2="266.3" y2="321.3"/>
<line x1="211.8" y1="325.8" x2="233.6" y2="337.3"/>
</g>
<line x1="235" y1="305.6" x2="235" y2="364" stroke="#5a5550" stroke-width="3.4"/>
<line x1="235" y1="305.6" x2="235" y2="364" stroke="#e2bc38" stroke-width="2"/>
</g>
<!-- D: roots -->
<g stroke-linecap="round">
<g stroke="#1a1a1a" stroke-width="2.9">
<line x1="582.7" y1="303.2" x2="562.3" y2="339.7"/>
<line x1="566.9" y1="334.7" x2="577.4" y2="346"/>
<line x1="571.6" y1="341.7" x2="566.1" y2="347.6"/>
<line x1="587.4" y1="303.8" x2="596.7" y2="344.6"/>
<line x1="591.8" y1="330" x2="583.3" y2="347"/>
<line x1="596.7" y1="338.8" x2="606.1" y2="349"/>
<line x1="596.5" y1="307.3" x2="613.6" y2="333.9"/>
</g>
<g stroke="#b8581a" stroke-width="1.5">
<line x1="582.7" y1="303.2" x2="562.3" y2="339.7"/>
<line x1="566.9" y1="334.7" x2="577.4" y2="346"/>
<line x1="571.6" y1="341.7" x2="566.1" y2="347.6"/>
<line x1="587.4" y1="303.8" x2="596.7" y2="344.6"/>
<line x1="591.8" y1="330" x2="583.3" y2="347"/>
<line x1="596.7" y1="338.8" x2="606.1" y2="349"/>
<line x1="596.5" y1="307.3" x2="613.6" y2="333.9"/>
</g>
</g>

</svg>
</body></html>
